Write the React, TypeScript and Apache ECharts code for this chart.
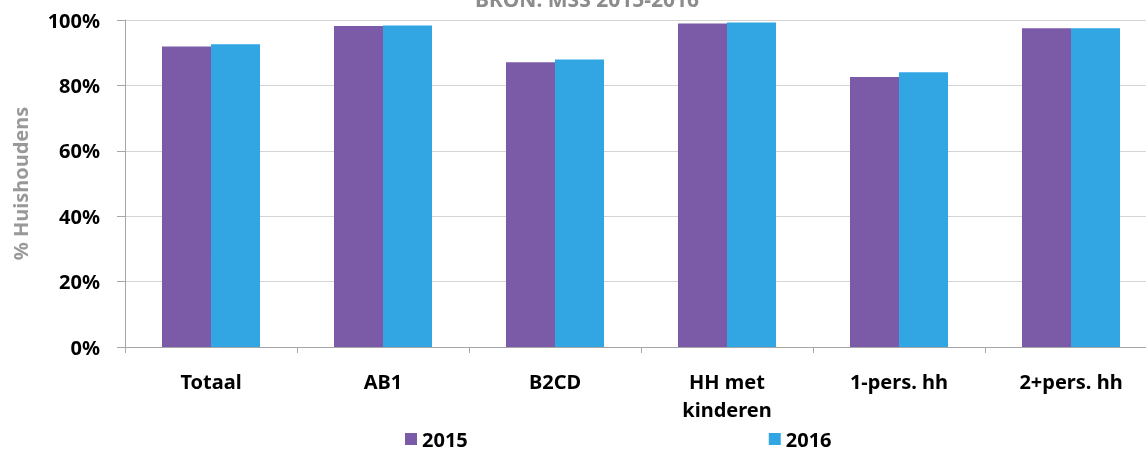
import React, { useEffect, useRef } from "react";
import * as echarts from "echarts";

const categories = ["Totaal", "AB1", "B2CD", "HH met\nkinderen", "1-pers. hh", "2+pers. hh"];
const values2015 = [91.9, 98.2, 87.1, 98.9, 82.6, 97.5];
const values2016 = [92.6, 98.3, 87.9, 99.2, 84.0, 97.5];
const seriesNames = ["2015", "2016"];
const titleText = "BRON: MSS 2015-2016";
const yAxisName = "% Huishoudens";

const FONT = "Noto Sans";

export default function App() {
  const ref = useRef<HTMLDivElement>(null);
  useEffect(() => {
    if (!ref.current) return;
    const chart = echarts.init(ref.current, undefined, { renderer: "svg" });
    chart.setOption({
      animation: false,
      title: {
        text: titleText,
        left: 470,
        top: -17,
        textStyle: { fontFamily: FONT, fontWeight: "bold", fontSize: 21, color: "#8c8c8c" },
      },
      legend: {
        data: seriesNames,
        left: 400,
        top: 424,
        itemWidth: 12,
        itemHeight: 12,
        itemGap: 301,
        icon: "rect",
        textStyle: { fontFamily: FONT, fontWeight: "bold", fontSize: 20, color: "#000" },
      },
      grid: { left: 125, top: 20, width: 1032, height: 327, outerBoundsMode: "none" },
      xAxis: {
        type: "category",
        data: categories,
        axisLine: { lineStyle: { color: "#a6a6a6", width: 1 } },
        axisTick: { show: true, length: 6, lineStyle: { color: "#a6a6a6" } },
        axisLabel: {
          fontFamily: FONT,
          fontWeight: "bold",
          fontSize: 20,
          color: "#000",
          margin: 20,
          lineHeight: 28,
          interval: 0,
        },
      },
      yAxis: {
        type: "value",
        min: 0,
        max: 100,
        interval: 20,
        name: yAxisName,
        nameLocation: "middle",
        nameGap: 95,
        nameRotate: 90,
        nameTextStyle: { fontFamily: FONT, fontWeight: "bold", fontSize: 20, color: "#999" },
        axisLine: { show: true, lineStyle: { color: "#a6a6a6" } },
        axisTick: { show: true, length: 8, lineStyle: { color: "#a6a6a6" } },
        splitLine: { lineStyle: { color: "#d4d4d4", width: 1 } },
        axisLabel: {
          fontFamily: FONT,
          fontWeight: "bold",
          fontSize: 20,
          color: "#000",
          margin: 25,
          formatter: (v: number) => `${v}%`,
        },
      },
      series: [
        {
          name: seriesNames[0],
          type: "bar",
          data: values2015,
          barGap: "0%",
          barCategoryGap: "43%",
          itemStyle: { color: "#7b5aa7" },
        },
        {
          name: seriesNames[1],
          type: "bar",
          data: values2016,
          barGap: "0%",
          barCategoryGap: "43%",
          itemStyle: { color: "#31a6e3" },
        },
      ],
    });
    return () => chart.dispose();
  }, []);
  return (
    <div
      ref={ref}
      style={{ position: "fixed", left: 0, top: 0, width: 1146, height: 452 }}
    />
  );
}
